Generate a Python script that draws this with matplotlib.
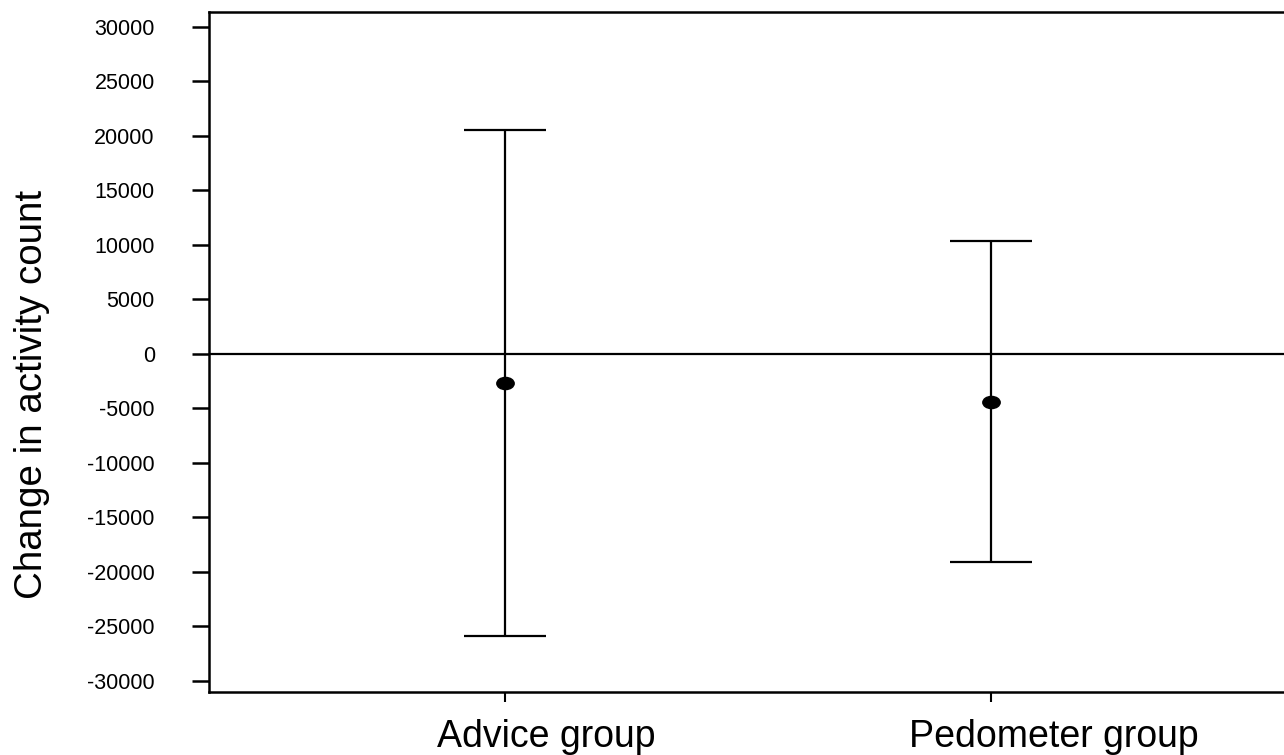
import numpy as np
import matplotlib
matplotlib.use("Agg")
import matplotlib.pyplot as plt
from matplotlib.path import Path

plt.rcParams['font.family'] = ['Liberation Sans', 'DejaVu Sans']

# values
groups = ["Advice group", "Pedometer group"]
means = [-2660, -4400]
upper = [20520, 10340]
lower = [-25870, -19110]
yticks = list(range(-30000, 30001, 5000))

x = np.arange(1, len(groups) + 1)
err = [np.array(means) - np.array(lower), np.array(upper) - np.array(means)]

# slightly flattened dot, like the original
circ = Path.unit_circle()
dot = Path(circ.vertices * np.array([1.0, 0.7]), circ.codes)

fig = plt.figure(figsize=(12.84, 7.55), dpi=100)
ax = fig.add_axes([209 / 1284, 1 - 692 / 755, 1 - 209 / 1284, (692 - 12) / 755])

ax.axhline(0, color="black", lw=1.6, zorder=1)
ax.errorbar(x, means, yerr=err, fmt="none", ecolor="black", elinewidth=1.6,
            capsize=29.5, capthick=1.6, zorder=2)
ax.plot(x, means, linestyle="none", marker=dot, markersize=12.5,
        color="black", zorder=3)

ax.set_xlim(0.391, 2.603)
ax.set_ylim(-31050, 31350)
ax.set_xticks(x)
ax.set_xticklabels([])
ax.set_yticks(yticks)
ax.set_yticklabels([str(v) for v in yticks], fontsize=15.5)
ax.set_ylabel("Change in activity count", fontsize=27.7, labelpad=27)
ax.yaxis.label.set_y(0.437)

# group labels sit a little right of their ticks in the original
for xi, name, dx in zip(x, groups, [30, 45]):
    ax.annotate(name, xy=(xi, 0), xycoords=("data", "axes fraction"),
                xytext=(dx, -19.5), textcoords="offset points",
                ha="center", va="top", fontsize=27)

ax.spines["right"].set_visible(False)
for s in ["left", "top", "bottom"]:
    ax.spines[s].set_linewidth(1.8)
ax.tick_params(axis="y", direction="out", length=12, width=1.8, pad=27)
ax.tick_params(axis="x", direction="out", length=7, width=1.5)

fig.savefig("out.png", dpi=100)
